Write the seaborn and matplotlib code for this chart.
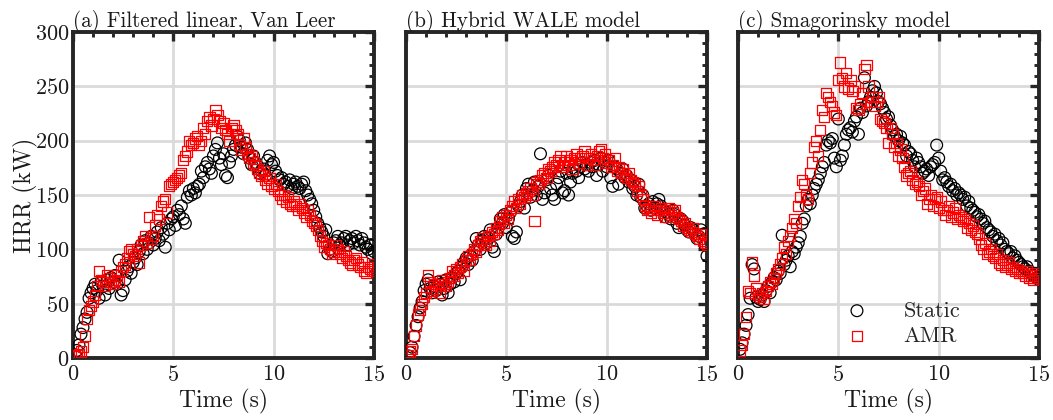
import numpy as np
import pandas as pd
import matplotlib
matplotlib.use("Agg")
import matplotlib.pyplot as plt
from matplotlib.ticker import MultipleLocator
import seaborn as sns

# Sampling times (s)
time = np.round(np.arange(1, 151) * 0.1, 1)

# (a) Filtered linear, Van Leer
a_static = [
    3, 7, 12, 22, 28, 36, 42, 55, 60, 64,
    68, 62, 55, 70, 66, 58, 72, 64, 74, 70,
    76, 68, 90, 58, 62, 72, 80, 84, 78, 88,
    92, 86, 98, 104, 96, 108, 100, 106, 112, 104,
    110, 116, 108, 120, 114, 102, 124, 118, 128, 130,
    122, 136, 132, 140, 128, 124, 148, 154, 150, 156,
    152, 158, 160, 172, 166, 176, 180, 174, 170, 186,
    192, 198, 184, 178, 188, 168, 166, 180, 186, 192,
    196, 204, 200, 194, 188, 198, 192, 184, 178, 186,
    180, 176, 170, 172, 174, 168, 182, 186, 178, 180,
    172, 168, 164, 166, 160, 162, 158, 164, 156, 160,
    162, 158, 156, 160, 162, 154, 150, 146, 142, 136,
    130, 124, 120, 116, 112, 118, 96, 100, 98, 106,
    108, 112, 104, 106, 110, 112, 104, 108, 110, 106,
    112, 108, 104, 110, 106, 102, 100, 104, 96, 98,
]
a_amr = [
    2, 3, 4, 6, 10, 20, 36, 44, 48, 52,
    58, 66, 80, 72, 70, 66, 76, 74, 70, 68,
    72, 76, 70, 80, 84, 86, 92, 98, 100, 96,
    94, 100, 88, 104, 108, 112, 106, 130, 110, 112,
    122, 132, 128, 140, 144, 146, 134, 158, 160, 162,
    164, 166, 168, 170, 182, 186, 190, 200, 196, 198,
    202, 204, 196, 200, 212, 206, 218, 222, 214, 220,
    228, 224, 218, 212, 216, 210, 206, 200, 212, 214,
    210, 206, 196, 192, 202, 194, 188, 184, 186, 180,
    178, 174, 170, 168, 172, 164, 160, 166, 158, 156,
    160, 154, 150, 146, 150, 144, 148, 142, 140, 144,
    140, 136, 142, 138, 134, 130, 136, 132, 126, 124,
    122, 118, 112, 108, 102, 106, 104, 100, 96, 98,
    104, 100, 96, 92, 98, 94, 90, 88, 86, 90,
    92, 86, 84, 88, 80, 78, 84, 82, 80, 86,
]

# (b) Hybrid WALE model
b_static = [
    2, 5, 10, 20, 30, 38, 46, 52, 62, 68,
    72, 64, 60, 66, 62, 70, 68, 58, 64, 72,
    60, 68, 74, 70, 78, 80, 72, 84, 88, 92,
    86, 94, 90, 98, 110, 104, 100, 108, 112, 106,
    110, 118, 102, 98, 114, 120, 128, 124, 132, 120,
    128, 134, 112, 110, 116, 140, 144, 150, 138, 156,
    160, 148, 154, 162, 150, 158, 188, 146, 152, 164,
    168, 156, 150, 146, 160, 166, 172, 152, 154, 170,
    150, 162, 170, 174, 172, 166, 176, 180, 174, 178,
    172, 180, 176, 182, 168, 178, 184, 172, 180, 176,
    182, 166, 158, 176, 174, 160, 170, 174, 166, 168,
    162, 164, 156, 158, 150, 160, 148, 150, 138, 140,
    142, 136, 144, 138, 142, 146, 140, 136, 130, 134,
    132, 128, 136, 132, 124, 120, 128, 126, 122, 118,
    116, 120, 118, 114, 110, 112, 118, 114, 104, 94,
]
b_amr = [
    3, 6, 8, 20, 30, 40, 44, 50, 56, 60,
    76, 70, 62, 68, 64, 66, 60, 72, 68, 66,
    70, 74, 80, 76, 82, 78, 84, 86, 80, 90,
    94, 90, 96, 100, 98, 104, 108, 110, 106, 104,
    112, 108, 116, 114, 120, 118, 126, 130, 124, 132,
    128, 136, 140, 144, 138, 146, 142, 150, 148, 152,
    154, 156, 150, 126, 162, 160, 164, 168, 170, 166,
    174, 172, 176, 180, 178, 182, 186, 176, 180, 186,
    178, 182, 174, 184, 188, 180, 184, 186, 190, 178,
    184, 188, 182, 178, 186, 190, 192, 184, 188, 180,
    182, 176, 178, 184, 172, 176, 170, 174, 168, 166,
    170, 164, 162, 160, 154, 158, 150, 146, 140, 136,
    138, 134, 136, 140, 132, 136, 138, 134, 130, 136,
    138, 132, 134, 136, 130, 128, 126, 122, 124, 120,
    118, 116, 120, 114, 112, 110, 114, 108, 106, 104,
]

# (c) Smagorinsky model
c_static = [
    8, 14, 22, 30, 40, 55, 86, 82, 56, 52,
    54, 58, 52, 62, 66, 60, 70, 74, 72, 80,
    78, 113, 86, 90, 94, 84, 98, 96, 102, 106,
    112, 124, 128, 140, 146, 142, 150, 156, 160, 164,
    170, 176, 180, 196, 200, 198, 202, 184, 176, 220,
    182, 186, 196, 206, 210, 212, 208, 218, 222, 206,
    230, 226, 258, 232, 236, 240, 246, 250, 244, 236,
    234, 230, 226, 220, 222, 214, 210, 204, 206, 200,
    204, 198, 196, 186, 190, 188, 182, 176, 184, 180,
    176, 170, 172, 174, 168, 176, 178, 180, 196, 184,
    172, 164, 166, 162, 158, 160, 154, 156, 150, 152,
    150, 146, 148, 140, 144, 138, 136, 134, 130, 132,
    128, 124, 126, 120, 118, 116, 112, 114, 108, 110,
    104, 106, 100, 98, 96, 98, 92, 94, 90, 88,
    86, 84, 82, 84, 80, 78, 76, 78, 74, 72,
]
c_amr = [
    7, 12, 22, 38, 62, 60, 88, 76, 64, 58,
    56, 60, 54, 62, 66, 70, 68, 74, 78, 82,
    86, 92, 102, 96, 108, 112, 120, 128, 124, 140,
    148, 164, 160, 150, 146, 170, 180, 194, 200, 186,
    210, 228, 222, 244, 240, 236, 232, 226, 224, 256,
    272, 258, 250, 262, 248, 256, 246, 250, 230, 228,
    234, 244, 266, 270, 250, 236, 240, 232, 236, 240,
    220, 218, 216, 212, 198, 212, 206, 194, 198, 186,
    192, 184, 176, 168, 170, 172, 164, 160, 162, 158,
    150, 154, 156, 142, 146, 150, 140, 146, 148, 138,
    144, 136, 132, 136, 140, 130, 134, 138, 128, 132,
    130, 126, 128, 120, 124, 118, 122, 116, 114, 110,
    104, 100, 106, 96, 98, 100, 94, 92, 96, 88,
    86, 90, 84, 86, 88, 82, 84, 80, 82, 78,
    80, 78, 76, 80, 74, 76, 72, 78, 74, 76,
]

titles = ["(a) Filtered linear, Van Leer", "(b) Hybrid WALE model", "(c) Smagorinsky model"]
panels = [(a_static, a_amr), (b_static, b_amr), (c_static, c_amr)]
xticks = [0, 5, 10, 15]
yticks = [0, 50, 100, 150, 200, 250, 300]

sns.set_theme(style="white")
plt.rcParams["font.family"] = ["cmr10", "DejaVu Serif"]
plt.rcParams["mathtext.fontset"] = "cm"
plt.rcParams["axes.formatter.use_mathtext"] = True

spine_col = "#262626"
text_col = "#1a1a1a"
fig = plt.figure(figsize=(10.53, 4.20), dpi=100)
lefts = [0.0693, 0.3856, 0.7009]
axes = [fig.add_axes([l, 0.1476, 0.2858, 0.776]) for l in lefts]

for i, (ax, (stat, amr), title) in enumerate(zip(axes, panels, titles)):
    df = pd.DataFrame({"Time": time, "Static": stat, "AMR": amr})
    sns.scatterplot(data=df, x="Time", y="Static", ax=ax, marker="o", s=72,
                    facecolor="none", edgecolor="black", linewidth=0.9,
                    label="Static", zorder=3)
    sns.scatterplot(data=df, x="Time", y="AMR", ax=ax, marker="s", s=54,
                    facecolor="none", edgecolor="#ff0000", linewidth=0.9,
                    label="AMR", zorder=4)
    ax.set_xlim(0, 15)
    ax.set_ylim(0, 300)
    ax.set_xticks(xticks)
    ax.set_yticks(yticks)
    ax.xaxis.set_minor_locator(MultipleLocator(1))
    ax.yaxis.set_minor_locator(MultipleLocator(10))
    ax.grid(True, which="major", color="#dadada", linewidth=2.0)
    ax.set_axisbelow(True)
    for sp in ax.spines.values():
        sp.set_linewidth(2.8)
        sp.set_color(spine_col)
    ax.tick_params(which="both", direction="in", top=True, right=True,
                   color=spine_col, labelsize=16, labelcolor=text_col)
    ax.tick_params(axis="x", pad=5)
    ax.tick_params(axis="y", pad=2.5)
    ax.tick_params(which="major", length=6.5, width=2.4)
    ax.tick_params(which="minor", length=3.8, width=2.1)
    ax.set_xlabel("Time (s)", fontsize=17, color=text_col, labelpad=3)
    if i == 0:
        ax.set_ylabel("HRR (kW)", fontsize=17, color=text_col, labelpad=-2)
    else:
        ax.set_ylabel("")
        ax.set_yticklabels([])
    ax.set_title(title, loc="left", fontsize=15.2, color=text_col, pad=4)
    if i == 2:
        ax.legend(loc="lower left", bbox_to_anchor=(0.277, -0.003), frameon=False,
                  fontsize=16, handletextpad=1.1, labelspacing=0.25,
                  borderaxespad=0.2)
    else:
        leg = ax.get_legend()
        if leg is not None:
            leg.remove()

fig.savefig("out.png", dpi=100)
